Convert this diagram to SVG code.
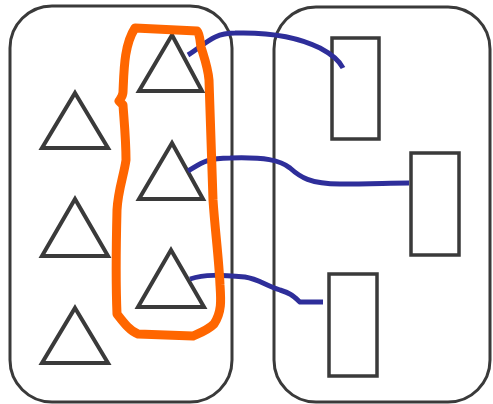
<svg xmlns="http://www.w3.org/2000/svg" width="493" height="404" viewBox="0 0 493 404">
<style>
.box{fill:none;stroke:#3a3a3a;stroke-width:3}
.tri{fill:none;stroke:#3a3a3a;stroke-width:4;stroke-linejoin:miter}
.rect{fill:none;stroke:#3a3a3a;stroke-width:3.5}
.link{fill:none;stroke:#2e2e9a;stroke-width:5;stroke-linecap:butt}
.loop{fill:none;stroke:#ff6600;stroke-width:9;stroke-linejoin:round;stroke-linecap:round}
</style>
<rect width="493" height="404" fill="#ffffff"/>
<g id="left-set"><rect class="box" x="10" y="6" width="222" height="396" rx="42"/></g>
<g id="right-set"><rect class="box" x="274" y="7" width="216" height="395" rx="42"/></g>
<g id="tri-l1"><polygon class="tri" points="75,93 108,148 42,148"/></g>
<g id="tri-l2"><polygon class="tri" points="75,199 108,256 42,256"/></g>
<g id="tri-l3"><polygon class="tri" points="75,308 108,363 42,363"/></g>
<g id="tri-m1"><polygon class="tri" points="172,35 202,91 139,91"/></g>
<g id="tri-m2"><polygon class="tri" points="172,143 203,199 139,199"/></g>
<g id="tri-m3"><polygon class="tri" points="171,250 204,307 138,307"/></g>
<g id="rect-1"><rect class="rect" x="332" y="38" width="47" height="101"/></g>
<g id="rect-2"><rect class="rect" x="411" y="153" width="48" height="102"/></g>
<g id="rect-3"><rect class="rect" x="329" y="274" width="48" height="102"/></g>
<g id="connectors">
<path class="link" d="M188,55 C205,45 212,33 235,33 C270,32 300,38 320,48 C335,56 340,62 343,68"/>
<path class="link" d="M188,171 C200,164 205,158 230,158 C265,157 280,160 290,168 C300,177 310,184 340,184 C370,184 390,183 409,183"/>
<path class="link" d="M190,279 C205,274 220,275 245,277 C258,279 265,285 280,290 C290,293 293,296 300,302 L323,302"/>
</g>
<g id="selection">
<path class="loop" d="M135,28 L197,31 C200,34 200,42 201,47 C205,60 208,68 209,80 L213,200 C215,230 219,260 220,285 C221,300 222,312 214,324 C208,330 200,333 193,336 L138,334 C130,331 124,323 117,314 C116,290 116,250 117,210 C118,190 124,175 126,160 C126,140 124,120 123,105 L119,101 C121,98 123,96 123,92 C124,70 124,45 135,28 Z"/>
</g>
</svg>
